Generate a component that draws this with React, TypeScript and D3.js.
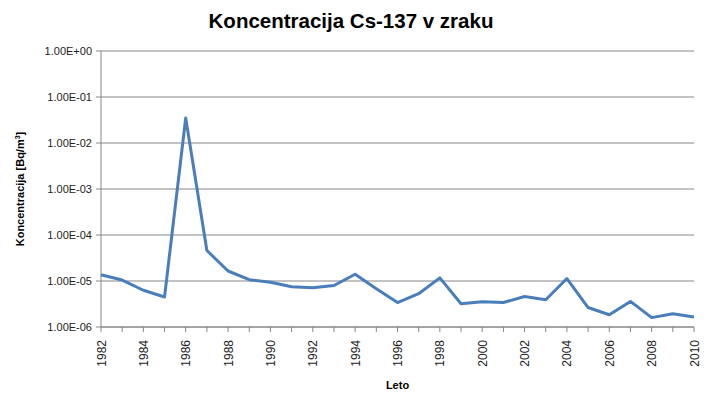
import React from "react";
import * as d3 from "d3";

const years: number[] = [1982,1983,1984,1985,1986,1987,1988,1989,1990,1991,1992,1993,1994,1995,1996,1997,1998,1999,2000,2001,2002,2003,2004,2005,2006,2007,2008,2009,2010];
const concentration: number[] = [1.37e-5,1.05e-5,6.3e-6,4.5e-6,3.5e-2,4.6e-5,1.65e-5,1.07e-5,9.4e-6,7.5e-6,7.1e-6,8.0e-6,1.4e-5,6.8e-6,3.4e-6,5.3e-6,1.17e-5,3.2e-6,3.55e-6,3.4e-6,4.6e-6,3.9e-6,1.13e-5,2.65e-6,1.85e-6,3.6e-6,1.6e-6,1.95e-6,1.65e-6];
const yTicks: number[] = [1e0,1e-1,1e-2,1e-3,1e-4,1e-5,1e-6];
const yTickLabels: string[] = ["1.00E+00","1.00E-01","1.00E-02","1.00E-03","1.00E-04","1.00E-05","1.00E-06"];
const xLabelYears: number[] = [1982,1984,1986,1988,1990,1992,1994,1996,1998,2000,2002,2004,2006,2008,2010];

const W = 708, H = 398;
const left = 101, right = 694, top = 51, bottom = 327;
const font = "'Liberation Sans', Arial, sans-serif";

export default function App() {
  const x = d3.scaleLinear().domain([1982, 2010]).range([left, right]);
  const y = d3.scaleLog().domain([1e-6, 1]).range([bottom, top]);
  const line = d3.line<number>().x((_, i) => x(years[i])).y((d) => y(d));
  return (
    <svg width={W} height={H} style={{ position: "absolute", left: 0, top: 0, background: "#fff" }}>
      <rect x={0} y={0} width={W} height={H} fill="#fff" />
      <text x={351} y={28} textAnchor="middle" fontFamily={font} fontWeight="bold" fontSize={20.5} fill="#000">Koncentracija Cs-137 v zraku</text>
      {yTicks.map((t) => (
        <line key={"g" + t} x1={left} x2={right} y1={y(t)} y2={y(t)} stroke="#868686" strokeWidth={1} />
      ))}
      {yTicks.map((t, i) => (
        <g key={"yt" + t}>
          <line x1={left - 5} x2={left} y1={y(t)} y2={y(t)} stroke="#868686" />
          <text x={left - 9} y={y(t) + 4} textAnchor="end" fontFamily={font} fontSize={11} fill="#222">{yTickLabels[i]}</text>
        </g>
      ))}
      <line x1={left} x2={left} y1={top} y2={bottom} stroke="#868686" />
      <line x1={left} x2={right} y1={bottom} y2={bottom} stroke="#868686" />
      {years.map((yr) => (
        <line key={"xt" + yr} x1={x(yr)} x2={x(yr)} y1={bottom} y2={bottom + 5} stroke="#868686" />
      ))}
      {xLabelYears.map((yr) => (
        <text key={"xl" + yr} transform={`translate(${x(yr) + 4.5},${bottom + 13}) rotate(-90)`} textAnchor="end" fontFamily={font} fontSize={12} fill="#222">{yr}</text>
      ))}
      <path d={line(concentration) || ""} fill="none" stroke="#4a7ebb" strokeWidth={3} strokeLinejoin="round" />
      <text x={(left + right) / 2} y={389} textAnchor="middle" fontFamily={font} fontWeight="bold" fontSize={11} fill="#000">Leto</text>
      <text transform={`translate(24,${(top + bottom) / 2}) rotate(-90)`} textAnchor="middle" fontFamily={font} fontWeight="bold" fontSize={11} fill="#000">
        Koncentracija  [Bq/m<tspan dy={-4} fontSize={7}>3</tspan><tspan dy={4}>]</tspan>
      </text>
    </svg>
  );
}
